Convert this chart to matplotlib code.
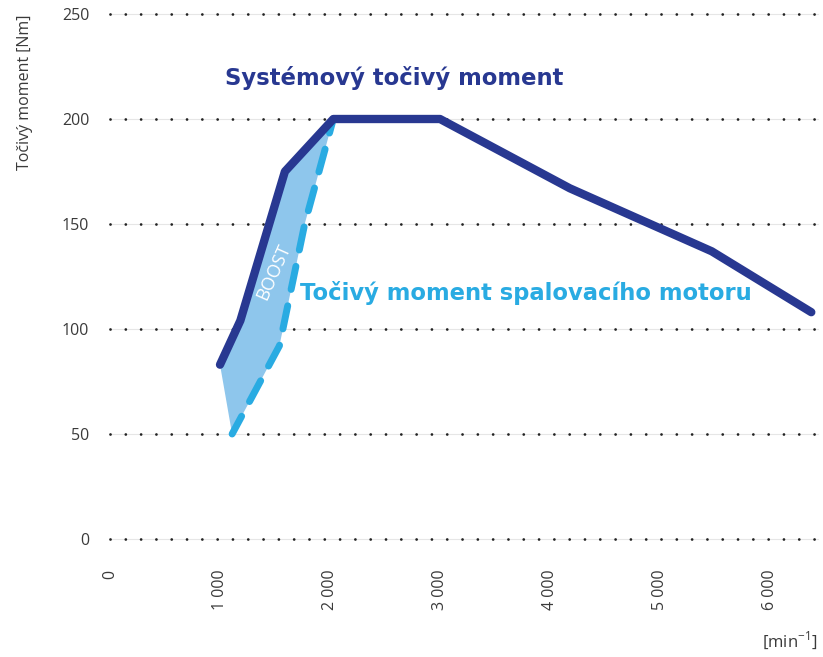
import matplotlib
matplotlib.use("Agg")
import matplotlib.pyplot as plt
import numpy as np

# Data
sys_rpm = [1000, 1185, 1590, 2030, 3000, 4180, 5470, 6375]
sys_torque = [83, 104, 175, 200, 200, 167, 137, 108]
ice_rpm = [1110, 1540, 1770, 2030]
ice_torque = [50, 92, 150, 200]
x_ticks = [0, 1000, 2000, 3000, 4000, 5000, 6000]
x_ticklabels = ["0", "1 000", "2 000", "3 000", "4 000", "5 000", "6 000"]
y_ticks = [0, 50, 100, 150, 200, 250]

NAVY = "#283891"
CYAN = "#29ABE2"
FILL = "#8EC6EC"
TXT = "#3a3a3a"

plt.rcParams['font.family'] = ['Open Sans', 'DejaVu Sans']

fig = plt.figure(figsize=(8.23, 6.57), dpi=100)
ax = fig.add_axes([110/823, 1-539/657, 708/823, 525/657])
ax.set_xlim(0, 6436)
ax.set_ylim(0, 250)
for s in ax.spines.values():
    s.set_visible(False)

# grid lines
for yv in y_ticks:
    ax.plot([0, 6436], [yv, yv], color="#e6e6e6", lw=0.8, zorder=0, clip_on=False)
    ax.plot([0, 6436], [yv, yv], color="#222222", lw=2.0,
            linestyle=(0, (0.01, 5.5)), dash_capstyle="round", zorder=1, clip_on=False)

# boost fill
n_sys = sum(1 for r in sys_rpm if r <= ice_rpm[-1])
poly_x = list(sys_rpm[:n_sys]) + list(ice_rpm[::-1])
poly_y = list(sys_torque[:n_sys]) + list(ice_torque[::-1])
ax.fill(poly_x, poly_y, color=FILL, lw=0, zorder=2)

ax.plot(ice_rpm, ice_torque, color=CYAN, lw=5.0, linestyle=(0.5, (3.4, 2.4)),
        dash_capstyle="round", solid_capstyle="round", zorder=3)
ax.plot(sys_rpm, sys_torque, color=NAVY, lw=6.0, solid_capstyle="round",
        solid_joinstyle="round", zorder=4, clip_on=False)

ax.set_xticks(x_ticks)
ax.set_xticklabels(x_ticklabels, rotation=90, va="top", ha="center")
ax.set_yticks(y_ticks)
ax.tick_params(axis="both", length=0, colors=TXT, labelsize=11.5)
ax.tick_params(axis="x", pad=22)
ax.tick_params(axis="y", pad=15)

fig.text(25/823, 1-92/657, "Točivý moment [Nm]", rotation=90, ha="center", va="center",
         fontsize=11.5, color=TXT)
fig.text(790/823, 1-640/657, r"[min$^{\mathregular{-1}}$]", ha="center", va="center",
         fontsize=12, color=TXT)

ax.text(1045, 219.5, "Systémový točivý moment", color=NAVY, fontsize=16.4,
        fontweight="bold", ha="left", va="center", family=["DejaVu Sans"])
ax.text(1727, 117, "Točivý moment spalovacího motoru", color=CYAN, fontsize=16.3,
        fontweight="bold", ha="left", va="center", family=["DejaVu Sans"])
ax.text(1491, 127, "BOOST", color="white", fontsize=13, rotation=66,
        ha="center", va="center", zorder=5)

fig.savefig("out.png", dpi=100, facecolor="white")
